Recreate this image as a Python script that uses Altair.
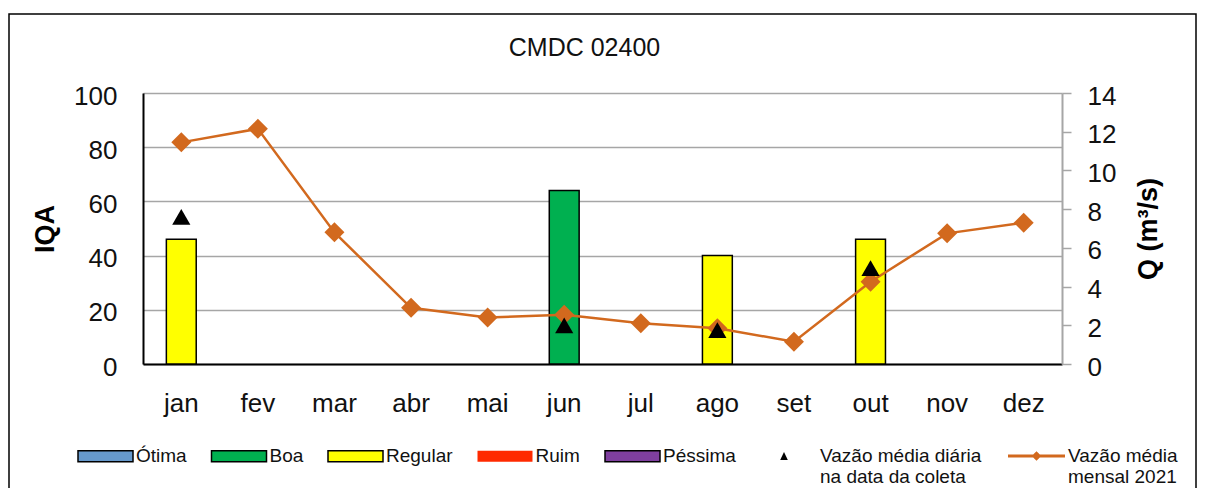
import altair as alt
import pandas as pd

# ---------------- data ----------------
months = ['jan', 'fev', 'mar', 'abr', 'mai', 'jun', 'jul', 'ago', 'set', 'out', 'nov', 'dez']

iqa_months = ['jan', 'jun', 'ago', 'out']
iqa_values = [46, 64, 40, 46]
iqa_classes = ['Regular', 'Boa', 'Regular', 'Regular']

class_names = ['Ótima', 'Boa', 'Regular', 'Ruim', 'Péssima']
class_colors = ['#6699CC', '#00B050', '#FFFF00', '#FF2A00', '#7F3F9F']

flow_monthly = [11.45, 12.15, 6.8, 2.9, 2.4, 2.55, 2.1, 1.85, 1.15, 4.25, 6.75, 7.3]
flow_monthly_name = 'Vazão média\nmensal 2021'

flow_daily_months = ['jan', 'jun', 'ago', 'out']
flow_daily = [7.6, 2.0, 1.75, 4.95]
flow_daily_name = 'Vazão média diária\nna data da coleta'

iqa_ticks = [0, 20, 40, 60, 80, 100]
q_ticks = [0, 2, 4, 6, 8, 10, 12, 14]

FONT = 'Liberation Sans'
ORANGE = '#D2691E'
GRID = '#A6A6A6'

df_bar = pd.DataFrame({'mes': iqa_months, 'IQA': iqa_values, 'Classe': iqa_classes})
df_flow = pd.DataFrame({'mes': months, 'Q': flow_monthly, 'serie': [flow_monthly_name] * len(months)})
df_daily = pd.DataFrame({'mes': flow_daily_months, 'Q': flow_daily, 'serie': [flow_daily_name] * len(flow_daily_months)})

x_scale = alt.Scale(domain=months, paddingInner=0.61, paddingOuter=0.305)
x_axis = alt.Axis(title=None, labelAngle=0, labelFont=FONT, labelFontSize=26,
                  labelColor='#111111', ticks=False, domainColor='black',
                  domainWidth=2, labelPadding=26, grid=False)
x_enc = alt.X('mes:N', sort=months, scale=x_scale, axis=x_axis)

q_scale = alt.Scale(domain=[0, 14], nice=False)

bars = alt.Chart(df_bar).mark_bar(stroke='black', strokeWidth=1.5).encode(
    x=x_enc,
    y=alt.Y('IQA:Q', scale=alt.Scale(domain=[0, 100], nice=False),
            axis=alt.Axis(title='IQA', titleFont=FONT, titleFontSize=27, titleFontWeight='bold',
                          titleColor='black', titleAngle=270, titleX=-98, titleY=135.5,
                          titleAlign='center', titleBaseline='middle',
                          values=iqa_ticks, labelFont=FONT, labelFontSize=26, labelColor='#111111',
                          labelPadding=26, labelOffset=3, ticks=False,
                          domainColor='black', domainWidth=2,
                          grid=True, gridColor=GRID, gridWidth=1.5)),
    color=alt.Color('Classe:N', scale=alt.Scale(domain=class_names, range=class_colors),
                    legend=alt.Legend(title=None, orient='none', legendX=-66, legendY=334.5,
                                      direction='horizontal', padding=0,
                                      symbolType='M-1,-0.2H1V0.2H-1Z', symbolSize=3025,
                                      symbolStrokeColor={'expr': "datum.value === 'Ruim' ? 'transparent' : 'black'"},
                                      symbolStrokeWidth=1.5, symbolOpacity=1,
                                      labelFont=FONT, labelFontSize=19, labelColor='#111111',
                                      labelOffset=2, columnPadding=21.5))
)

line = alt.Chart(df_flow).mark_line(color=ORANGE, strokeWidth=2.5).encode(
    x=x_enc,
    y=alt.Y('Q:Q', scale=q_scale,
            axis=alt.Axis(orient='right', title='Q (m³/s)', titleFont=FONT, titleFontSize=27,
                          titleFontWeight='bold', titleColor='black', titleAngle=270,
                          titleX=86, titleY=135.5, titleAlign='center', titleBaseline='middle',
                          values=q_ticks, labelFont=FONT, labelFontSize=26, labelColor='#111111',
                          labelPadding=16, labelOffset=3, ticks=True, tickSize=9,
                          tickColor=GRID, tickWidth=1.5, domainColor=GRID, domainWidth=2,
                          grid=False))
)

points = alt.Chart(df_flow).mark_point(shape='diamond', filled=True, size=400, opacity=1).encode(
    x=x_enc,
    y=alt.Y('Q:Q', scale=q_scale, axis=None),
    color=alt.Color('serie:N', scale=alt.Scale(range=[ORANGE]),
                    legend=alt.Legend(title=None, orient='none', legendX=865, legendY=334.5,
                                      padding=0,
                                      symbolType='M-1,-0.05H1V0.05H-1Z M0,-0.17L0.17,0L0,0.17L-0.17,0Z',
                                      symbolSize=3249, symbolStrokeWidth=0, symbolOpacity=1,
                                      labelExpr="split(datum.label, '\\n')", labelLimit=300,
                                      labelFont=FONT, labelFontSize=19, labelColor='#111111',
                                      labelOffset=3))
)

triangles = alt.Chart(df_daily).mark_point(shape='triangle-up', filled=True, size=330, opacity=1).encode(
    x=x_enc,
    y=alt.Y('Q:Q', scale=q_scale, axis=None),
    color=alt.Color('serie:N', scale=alt.Scale(range=['black']),
                    legend=alt.Legend(title=None, orient='none', legendX=631, legendY=353,
                                      padding=0,
                                      symbolType='M0,-0.4L0.38,0.4L-0.38,0.4Z',
                                      symbolSize=400, symbolStrokeWidth=0, symbolOpacity=1,
                                      labelExpr="split(datum.label, '\\n')", labelLimit=300,
                                      labelFont=FONT, labelFontSize=19, labelColor='#111111',
                                      labelOffset=26))
)

frame = alt.Chart(pd.DataFrame({'k': [0]})).mark_rect(filled=False, stroke='black', strokeWidth=1.5).encode(
    x=alt.value(-134), x2=alt.value(1053), y=alt.value(-79), y2=alt.value(420)
)

chart = alt.layer(frame, bars, line, points, triangles).resolve_scale(
    y='independent', color='independent'
).resolve_legend(color='independent').properties(
    width=919, height=271,
    autosize=alt.AutoSizeParams(type='none'),
    padding={'left': 135, 'top': 85, 'right': 135, 'bottom': 124},
    title=alt.TitleParams('CMDC 02400', font=FONT, fontSize=25, fontWeight='normal',
                          color='#111111', anchor='middle', frame='group', dx=-18,
                          offset=-73, baseline='bottom')
).configure_view(strokeWidth=0).configure(font=FONT)

chart.save('out.html', embed_options={'renderer': 'svg', 'actions': False})
